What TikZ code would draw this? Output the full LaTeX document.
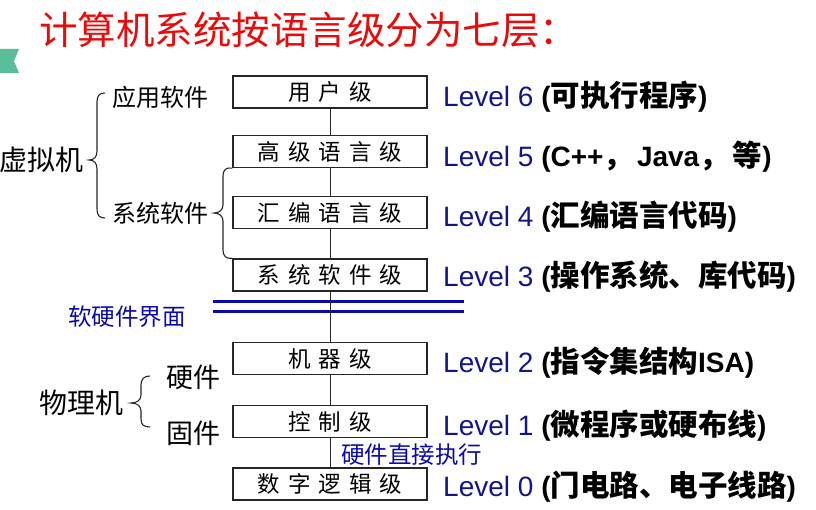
\documentclass[tikz,border=0pt]{standalone}
\usepackage{fontspec}
\setmainfont{Liberation Sans}
\newfontfamily\cjk{Noto Sans CJK SC}
\definecolor{titlered}{RGB}{235,10,10}
\definecolor{lvblue}{RGB}{20,20,140}
\definecolor{ifblue}{RGB}{10,10,170}
\definecolor{tagg}{RGB}{90,190,155}
\newcommand\gp{\hspace{8pt}}
\newcommand\fs[1]{\fontsize{#1}{#1}\selectfont}
\tikzset{
  lvbox/.style={draw=black!85, line width=1.3pt, minimum width=194pt, minimum height=32pt, inner sep=0pt, font=\cjk\fs{22.5}},
  lvtext/.style={anchor=base west, inner sep=0pt, font=\fs{28}},
  lbl/.style={anchor=west, inner sep=0pt, font=\cjk\fs{24}},
  conn/.style={draw=black!85, line width=0.9pt},
  brc/.style={draw=black!85, line width=1.1pt},
  dbl/.style={draw=ifblue, line width=3pt}
}
\newcommand\lv[1]{{\color{lvblue}Level #1}}
\newcommand\cb[1]{{\cjk\bfseries\fs{29.5}#1}}
\begin{document}
\begin{tikzpicture}[x=1pt,y=-1pt]
\useasboundingbox (0,0) rectangle (816,510);
% tag
\fill[tagg] (0,49) -- (19,49) -- (14,61) -- (19,73) -- (0,73) -- cycle;
% title
\node[anchor=west, inner sep=0pt, text=titlered, font=\cjk\fs{38.5}] (title) at (39,30) {计算机系统按语言级分为七层：};
% boxes
\node[lvbox] (b6) at (330,92) {用\gp 户\gp 级};
\node[lvbox] (b5) at (330,151.5) {高\gp 级\gp 语\gp 言\gp 级};
\node[lvbox] (b4) at (330,212.5) {汇\gp 编\gp 语\gp 言\gp 级};
\node[lvbox] (b3) at (330,275) {系\gp 统\gp 软\gp 件\gp 级};
\node[lvbox] (b2) at (330,358.5) {机\gp 器\gp 级};
\node[lvbox] (b1) at (330,421.5) {控\gp 制\gp 级};
\node[lvbox] (b0) at (330,484) {数\gp 字\gp 逻\gp 辑\gp 级};
% interface double line
\coordinate (ifL) at (213,312);
\coordinate (ifR) at (464,312);
\draw[dbl] (ifL) -- (ifR);
\draw[dbl] ([yshift=10pt]ifL) -- ([yshift=10pt]ifR);
% connectors
\draw[conn] (b6.south) -- (b5.north);
\draw[conn] (b5.south) -- (b4.north);
\draw[conn] (b4.south) -- (b3.north);
\draw[conn] (b3.south) -- (b2.north);
\draw[conn] (b2.south) -- (b1.north);
\draw[conn] (b1.south) -- (b0.north);
% level texts
\node[lvtext] (l6) at (443,107) {\lv{6} \textbf{(}\cb{可执行程序}\textbf{)}};
\node[lvtext] (l5) at (443,167) {\lv{5} \textbf{(C++}\cb{，}\hspace{4pt}\textbf{Java}\cb{，}\hspace{4pt}\cb{等}\textbf{)}};
\node[lvtext] (l4) at (443,227) {\lv{4} \textbf{(}\cb{汇编语言代码}\textbf{)}};
\node[lvtext] (l3) at (443,287) {\lv{3} \textbf{(}\cb{操作系统、库代码}\textbf{)}};
\node[lvtext] (l2) at (443,372) {\lv{2} \textbf{(}\cb{指令集结构}\textbf{ISA)}};
\node[lvtext] (l1) at (443,435) {\lv{1} \textbf{(}\cb{微程序或硬布线}\textbf{)}};
\node[lvtext] (l0) at (443,496) {\lv{0} \textbf{(}\cb{门电路、电子线路}\textbf{)}};
% left labels
\node[lbl, font=\cjk\fs{28}] (vm) at (-1,160) {虚拟机};
\node[lbl] (app) at (112,97) {应用软件};
\node[lbl] (sys) at (112,213) {系统软件};
\node[lbl, font=\cjk\fs{28}] (pm) at (39,403) {物理机};
\node[lbl, font=\cjk\fs{27}] (hw) at (166,377) {硬件};
\node[lbl, font=\cjk\fs{27}] (fw) at (166,433) {固件};
\node[lbl, text=ifblue, font=\cjk\fs{23.5}] (sif) at (68,317) {软硬件界面};
\node[lbl, text=ifblue, font=\cjk\fs{23.5}] (hx) at (341,455) {硬件直接执行};
% braces
\draw[brc] (105,93) .. controls (99,93) and (97,96) .. (97,102) -- (97,151)
  .. controls (97,157) and (94,160) .. (89,160)
  .. controls (94,160) and (97,163) .. (97,169) -- (97,209)
  .. controls (97,215) and (99,218) .. (105,218);
\draw[brc] (b5.south west) .. controls (226,167) and (223,170) .. (223,176) -- (223,205)
  .. controls (223,210) and (219,213) .. (214,213)
  .. controls (219,213) and (223,216) .. (223,221) -- (223,250)
  .. controls (223,256) and (226,259) .. (b3.north west);
\draw[brc] (150,376) .. controls (144,376) and (141,379) .. (141,385) -- (141,395)
  .. controls (141,400) and (137,403) .. (131,403)
  .. controls (137,403) and (141,406) .. (141,411) -- (141,419)
  .. controls (141,425) and (144,427) .. (150,427);
\end{tikzpicture}
\end{document}
